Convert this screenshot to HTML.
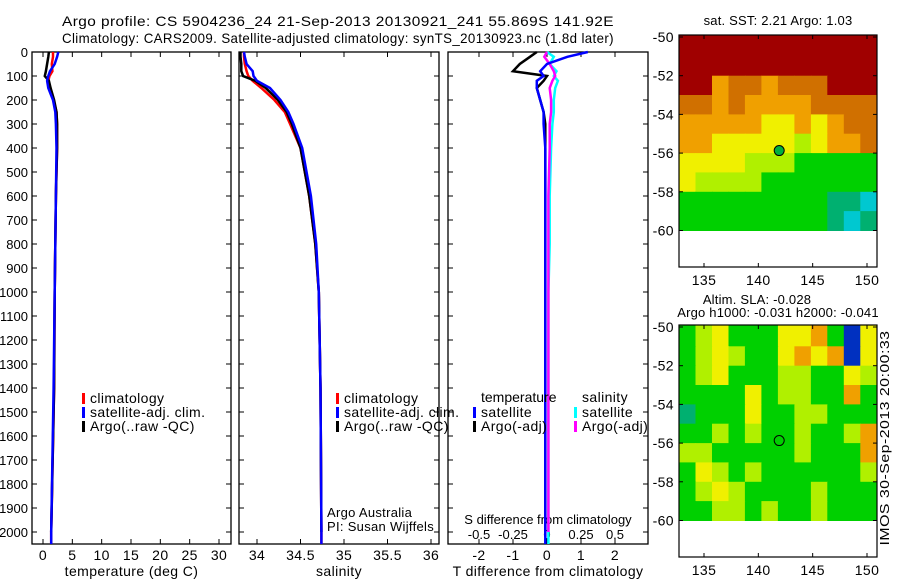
<!DOCTYPE html>
<html><head><meta charset="utf-8"><style>
body{margin:0;background:#fff;}
svg{display:block;font-family:"Liberation Sans",sans-serif;}
text{font-size:14px;fill:#000;letter-spacing:0.4px;}
</style></head><body>
<svg id="fig" width="900" height="580" viewBox="0 0 900 580" xmlns="http://www.w3.org/2000/svg">
<text x="62" y="26" textLength="552" lengthAdjust="spacingAndGlyphs">Argo profile: CS 5904236_24 21-Sep-2013 20130921_241 55.869S 141.92E</text>
<text x="62" y="43" textLength="552" lengthAdjust="spacingAndGlyphs">Climatology: CARS2009. Satellite-adjusted climatology: synTS_20130923.nc (1.8d later)</text>
<g id="g"></g>
</svg>
<script>
// ---- data ----
const depths = [0,20,50,80,100,120,150,200,250,300,400,600,800,1000,1400,2000,2050];
const tempClim = [1.7,1.7,1.5,1.6,1.1,0.9,1.2,1.8,2.3,2.4,2.4,2.2,2.1,2.0,1.9,1.4,1.4];
const tempSat  = [2.6,2.4,2.0,1.2,0.9,0.7,0.9,1.7,2.1,2.2,2.3,2.2,2.1,2.0,1.8,1.4,1.4];
const tempArgo = [1.0,0.9,0.7,0.5,0.3,1.0,1.3,1.9,2.3,2.4,2.4,2.2,2.1,2.0,1.9,1.4];
const salClim = [33.85,33.85,33.86,33.88,33.9,33.95,34.05,34.2,34.32,34.38,34.5,34.6,34.67,34.71,34.73,34.74,34.74];
const salSat  = [33.85,33.86,33.88,33.95,33.96,34.0,34.15,34.27,34.36,34.42,34.52,34.62,34.68,34.71,34.73,34.74,34.74];
const salArgo = [33.81,33.81,33.82,33.82,33.84,33.98,34.1,34.24,34.34,34.4,34.5,34.6,34.67,34.71,34.73,34.74];
const dTsat  = [1.2,0.6,0.0,-0.2,-0.1,-0.3,-0.3,-0.2,-0.1,-0.1,-0.05,-0.05,-0.05,-0.05,-0.05,-0.05,-0.05];
const dTargo = [-0.3,-0.5,-0.8,-1.0,0.0,-0.1,-0.3,-0.2,-0.1,-0.05,-0.05,-0.05,-0.05,-0.05,-0.05,-0.05];
const dSsat  = [0.0,0.05,0.02,0.07,0.05,0.08,0.06,0.05,0.05,0.04,0.03,0.02,0.02,0.01,0.01,0.01,0.01];
const dSargo = [0.0,-0.02,0.02,0.05,0.06,0.04,0.02,0.03,0.03,0.02,0.02,0.01,0.01,0.01,0.01,0.01];
const depthTicks = [0,100,200,300,400,500,600,700,800,900,1000,1100,1200,1300,1400,1500,1600,1700,1800,1900,2000];
const tempTicks = [0,5,10,15,20,25,30];
const salTicks = [34,34.5,35,35.5,36];
const salTickLabels = ['34','34.5','35','35.5','36'];
const dTTicks = [-2,-1,0,1,2];
const dSTicks = [-0.5,-0.25,0,0.25,0.5];
const dSTickLabels = ['-0.5','-0.25','0','0.25','0.5'];
const latTicks = [-50,-52,-54,-56,-58,-60];
const lonTicks = [135,140,145,150];
// map grids: rows lat -50..-60 (1 deg each), 12 lon cols; digit = colour class
const sstGrid = ["888888888888","888888888888","886776777888","776766667777","666665565677","665555545667","555544433333","544443333333","333333333221","333333333212"];
const slaGrid = ["345333556305","345433565605","345333443354","333353443363","233353344333","334343343346","443333343336","354343333334","345433334333","334434334333"];
const argoLat = -55.869, argoLon = 141.92;

// ---- helpers ----
const NS="http://www.w3.org/2000/svg";
const G=document.getElementById('g');
function el(tag,attrs,parent){const e=document.createElementNS(NS,tag);for(const k in attrs)e.setAttribute(k,attrs[k]);(parent||G).appendChild(e);return e;}
const Y0=52,Y1=544;
const yD=d=>Y0+d*(Y1-Y0)/2050;
function lin(d0,d1,p0,p1){return v=>p0+(v-d0)*(p1-p0)/(d1-d0);}

function panel(name,x0,x1,xs,ticks,labels,xlabel,showY){
  const p=el('rect',{x:x0,y:Y0,width:x1-x0,height:Y1-Y0,fill:'none',stroke:'#000','stroke-width':1.3});
  
  
  ticks.forEach((t,i)=>{const x=xs(t);
    el('line',{x1:x,y1:Y1,x2:x,y2:Y1-5,stroke:'#000'});
    el('line',{x1:x,y1:Y0,x2:x,y2:Y0+5,stroke:'#000'});
    if(labels){const tx=el('text',{x:x,y:Y1+16,'text-anchor':'middle'});tx.textContent=labels[i];
      
      }
  });
  depthTicks.forEach(d=>{const y=yD(d);
    el('line',{x1:x0,y1:y,x2:x0+5,y2:y,stroke:'#000'});
    el('line',{x1:x1,y1:y,x2:x1-5,y2:y,stroke:'#000'});
    if(showY){const tx=el('text',{x:28,y:y+5,'text-anchor':'end','style':'font-size:13px;letter-spacing:0'});tx.textContent=d;
      
      }
  });
  const xl=el('text',{x:(x0+x1)/2,y:576,'text-anchor':'middle'});xl.textContent=xlabel;
  
  
}
function line(vals,xs,color,name,w){
  let pts=[];vals.forEach((v,i)=>{pts.push(xs(v).toFixed(1)+','+yD(depths[i]).toFixed(1));});
  const l=el('polyline',{points:pts.join(' '),fill:'none',stroke:color,'stroke-width':w||2.5});
  
  
}
function legend(x,y,color,label,name){
  el('rect',{x:x,y:y-9,width:3,height:11,fill:color});
  const t=el('text',{x:x+8,y:y+1});t.textContent=label;
  
  
}

// ---- panel 1 temperature ----
const xT=lin(0,30,43,219);
panel('temperature-panel',32,231,xT,tempTicks,tempTicks.map(String),'temperature (deg C)',true);
line(tempClim,xT,'#f00','temp-climatology-line');
line(tempArgo,xT,'#000','temp-argo-line');
line(tempSat,xT,'#00f','temp-satellite-line');
legend(82,402,'#f00','climatology','temp-legend-climatology');
legend(82,416,'#00f','satellite-adj. clim.','temp-legend-satellite');
legend(82,430,'#000','Argo(..raw -QC)','temp-legend-argo');

// ---- panel 2 salinity ----
const xS=lin(34,36,257,431);
panel('salinity-panel',239,439,xS,salTicks,salTickLabels,'salinity',false);
line(salClim,xS,'#f00','sal-climatology-line');
line(salArgo,xS,'#000','sal-argo-line');
line(salSat,xS,'#00f','sal-satellite-line');
legend(336,402,'#f00','climatology','sal-legend-climatology');
legend(336,416,'#00f','satellite-adj. clim.','sal-legend-satellite');
legend(336,430,'#000','Argo(..raw -QC)','sal-legend-argo');
[['Argo Australia',517],['PI: Susan Wijffels',531]].forEach(a=>{const t=el('text',{x:327,y:a[1],'style':'font-size:13px;letter-spacing:0.3px'});t.textContent=a[0];
  
  });

// ---- panel 3 differences ----
const xdT=lin(0,1,547,581);
const xdS=v=>xdT(v*4);
panel('difference-panel',448,648,xdT,dTTicks,dTTicks.map(String),'T difference from climatology',false);
dSTicks.forEach((t,i)=>{const tx=el('text',{x:xdS(t),y:539,'text-anchor':'middle','style':'font-size:13px;letter-spacing:0'});tx.textContent=dSTickLabels[i];
  
  });
const st=el('text',{x:548,y:524,'text-anchor':'middle','style':'font-size:13px;letter-spacing:0'});st.textContent='S difference from climatology';


line(dSsat,xdS,'#0ff','s-diff-satellite-line',2.5);
line(dSargo,xdS,'#f0f','s-diff-argo-line',2.5);
line(dTargo,xdT,'#000','t-diff-argo-line',2.5);
line(dTsat,xdT,'#00f','t-diff-satellite-line',2.5);
const lt=el('text',{x:481,y:402,'style':'letter-spacing:0'});lt.textContent='temperature';


const ls=el('text',{x:582,y:402});ls.textContent='salinity';


legend(473,416,'#00f','satellite','diff-legend-t-satellite');
legend(473,430,'#000','Argo(-adj)','diff-legend-t-argo');
legend(574,416,'#0ff','satellite','diff-legend-s-satellite');
legend(574,430,'#f0f','Argo(-adj)','diff-legend-s-argo');

// ---- maps ----
const cmap=['#0030c0','#00c8d0','#00b070','#00d000','#b0f000','#f0f000','#f0a000','#d07000','#a00000'];
const MX0=679,MX1=877;
const xLon=lin(135,150,704,867);
function map(name,top,bottom,grid){
  const yLat=lin(-50,-60,top+2,top+2+(bottom-top)*0.834);
  const lon0=132.7,lon1=150.9,cw=(lon1-lon0)/12;
  grid.forEach((row,r)=>{for(let c=0;c<row.length;c++){
    const x=xLon(lon0+c*cw),x2=xLon(lon0+(c+1)*cw);
    const y2=yLat(-51-r);
    const yy=r==0?top:yLat(-50-r);
    const cell=el('rect',{x:x.toFixed(1),y:yy.toFixed(1),width:(x2-x+0.6).toFixed(1),height:(y2-yy+0.6).toFixed(1),fill:cmap[+row[c]]});
    
    
  }});
  const f=el('rect',{x:MX0,y:top,width:MX1-MX0,height:bottom-top,fill:'none',stroke:'#000','stroke-width':1.2});
  
  
  latTicks.forEach(l=>{const y=yLat(l);
    el('line',{x1:MX0,y1:y,x2:MX0+4,y2:y,stroke:'#000'});el('line',{x1:MX1,y1:y,x2:MX1-4,y2:y,stroke:'#000'});
    const t=el('text',{x:674,y:y+5,'text-anchor':'end'});t.textContent=l;
    
    });
  lonTicks.forEach(l=>{const x=xLon(l);
    el('line',{x1:x,y1:bottom,x2:x,y2:bottom-4,stroke:'#000'});el('line',{x1:x,y1:top,x2:x,y2:top+4,stroke:'#000'});
    const t=el('text',{x:x,y:bottom+18,'text-anchor':'middle'});t.textContent=l;
    
    });
  return yLat;
}
const y1=map('sst-map',35,267,sstGrid);
const m1=el('circle',{cx:xLon(argoLon),cy:y1(argoLat),r:5,fill:'#00b040',stroke:'#000','stroke-width':1});


const y2=map('sla-map',325,557,slaGrid);
const m2=el('circle',{cx:xLon(argoLon),cy:y2(argoLat),r:5,fill:'none',stroke:'#000','stroke-width':1});


[['sat. SST: 2.21 Argo: 1.03',778,25,'sst-map-title'],['Altim. SLA: -0.028',757,304,'sla-map-title'],['Argo h1000: -0.031 h2000: -0.041',778,317,'sla-map-subtitle']].forEach(a=>{
  const t=el('text',{x:a[1],y:a[2],'text-anchor':'middle','style':'font-size:13px;letter-spacing:0.2px'});t.textContent=a[0];
  
  });
const im=el('text',{x:0,y:0,'text-anchor':'middle','transform':'translate(889,438) rotate(-90)','style':'font-size:13px','textLength':215,'lengthAdjust':'spacingAndGlyphs'});
im.textContent='IMOS 30-Sep-2013 20:00:33';


</script>
</body></html>
